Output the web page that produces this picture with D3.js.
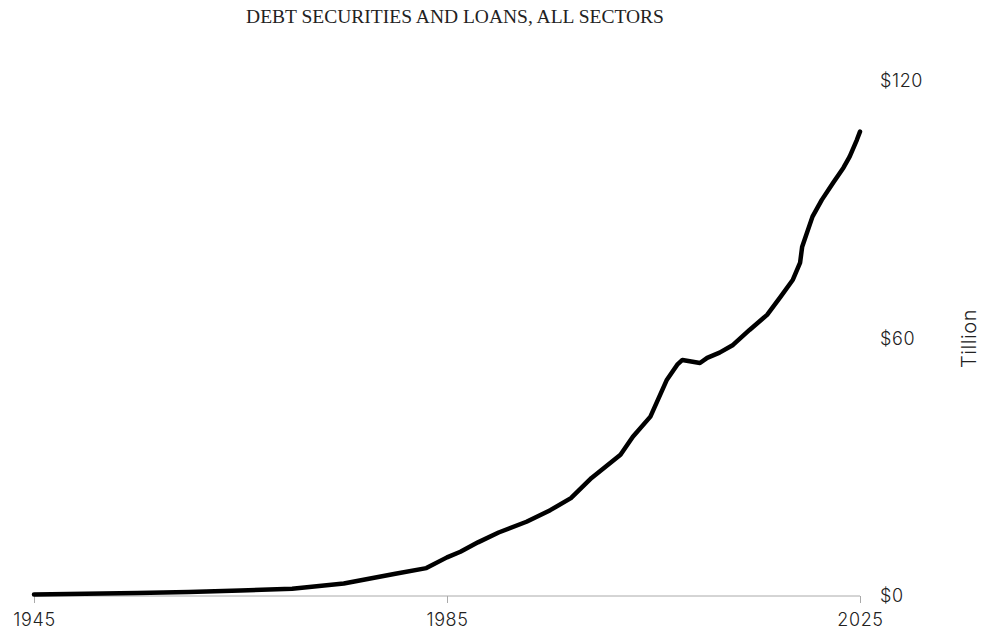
<!DOCTYPE html>
<html>
<head>
<meta charset="utf-8">
<script src="https://cdn.jsdelivr.net/npm/d3@7"></script>
<style>
  body { margin: 0; background: #fff; }
  .title { font-family: "Liberation Serif", serif; font-size: 19.5px; fill: #222; }
  .tick-label { font-family: Inter, "Open Sans", sans-serif; font-size: 18px; fill: #222; font-weight: 300; letter-spacing: 0.6px; }
</style>
</head>
<body>
<div id="chart"></div>
<script>
// Debt securities and loans, all sectors (trillions of dollars)
var years = [1945, 1950, 1955, 1960, 1965, 1970, 1975, 1980, 1983, 1985,
  1986.3, 1988, 1990, 1992.7, 1995, 1997, 1999, 2001.8, 2003, 2004.7,
  2006.3, 2007.3, 2007.8, 2009.5, 2010.2, 2011.4, 2012.7, 2014.3, 2016, 2017.3,
  2018.5, 2019.2, 2019.4, 2020.4, 2021.3, 2022.4, 2023.4, 2024, 2024.7, 2025];
var debt = [0.35, 0.5, 0.7, 0.95, 1.3, 1.7, 2.9, 5.2, 6.5, 9.0,
  10.3, 12.5, 14.8, 17.3, 20.0, 22.8, 27.5, 32.9, 37.1, 41.8,
  50.4, 53.9, 55.0, 54.3, 55.5, 56.7, 58.5, 62.0, 65.5, 69.7,
  73.7, 77.7, 81.4, 88.4, 92.3, 96.3, 99.8, 102.4, 106.3, 108.2];
var xTicks = [1945, 1985, 2025];
var yTicks = [0, 60, 120];

var width = 988, height = 635;
var margin = { top: 81, right: 128, bottom: 39, left: 34 };

var svg = d3.select('#chart').append('svg')
  .attr('width', width)
  .attr('height', height);

var x = d3.scaleLinear()
  .domain([1945, 2025])
  .range([margin.left, width - margin.right]);

var y = d3.scaleLinear()
  .domain([0, 120])
  .range([height - margin.bottom, margin.top]);

svg.append('text')
  .attr('class', 'title')
  .attr('x', 455)
  .attr('y', 23)
  .attr('text-anchor', 'middle')
  .text('DEBT SECURITIES AND LOANS, ALL SECTORS');

// x axis
var xAxis = svg.append('g')
  .attr('transform', 'translate(0,' + y(0) + ')')
  .call(d3.axisBottom(x).tickValues(xTicks).tickFormat(d3.format('d')).tickSize(7).tickPadding(10));
xAxis.select('.domain').attr('stroke', '#aaa').attr('d', 'M' + x(1945) + ',0H' + x(2025));
xAxis.selectAll('.tick line').attr('stroke', '#aaa');
xAxis.selectAll('.tick text').attr('class', 'tick-label').attr('fill', null).attr('font-size', null).attr('font-family', null);

// y labels on the right
svg.selectAll('.ylab')
  .data(yTicks)
  .enter()
  .append('text')
  .attr('class', 'tick-label ylab')
  .attr('x', 880)
  .attr('y', d => y(d))
  .attr('dy', '0.35em')
  .text(d => '$' + d);

svg.append('text')
  .attr('class', 'tick-label')
  .attr('transform', 'translate(976,' + y(60) + ') rotate(-90)')
  .attr('text-anchor', 'middle')
  .style('font-size', '20px')
  .text('Tillion');

var points = years.map((d, i) => ({ year: d, value: debt[i] }));

var line = d3.line()
  .x(d => x(d.year))
  .y(d => y(d.value));

svg.append('path')
  .datum(points)
  .attr('d', line)
  .attr('fill', 'none')
  .attr('stroke', '#000')
  .attr('stroke-width', 4.5)
  .attr('stroke-linejoin', 'round')
  .attr('stroke-linecap', 'round');
</script>
</body>
</html>
